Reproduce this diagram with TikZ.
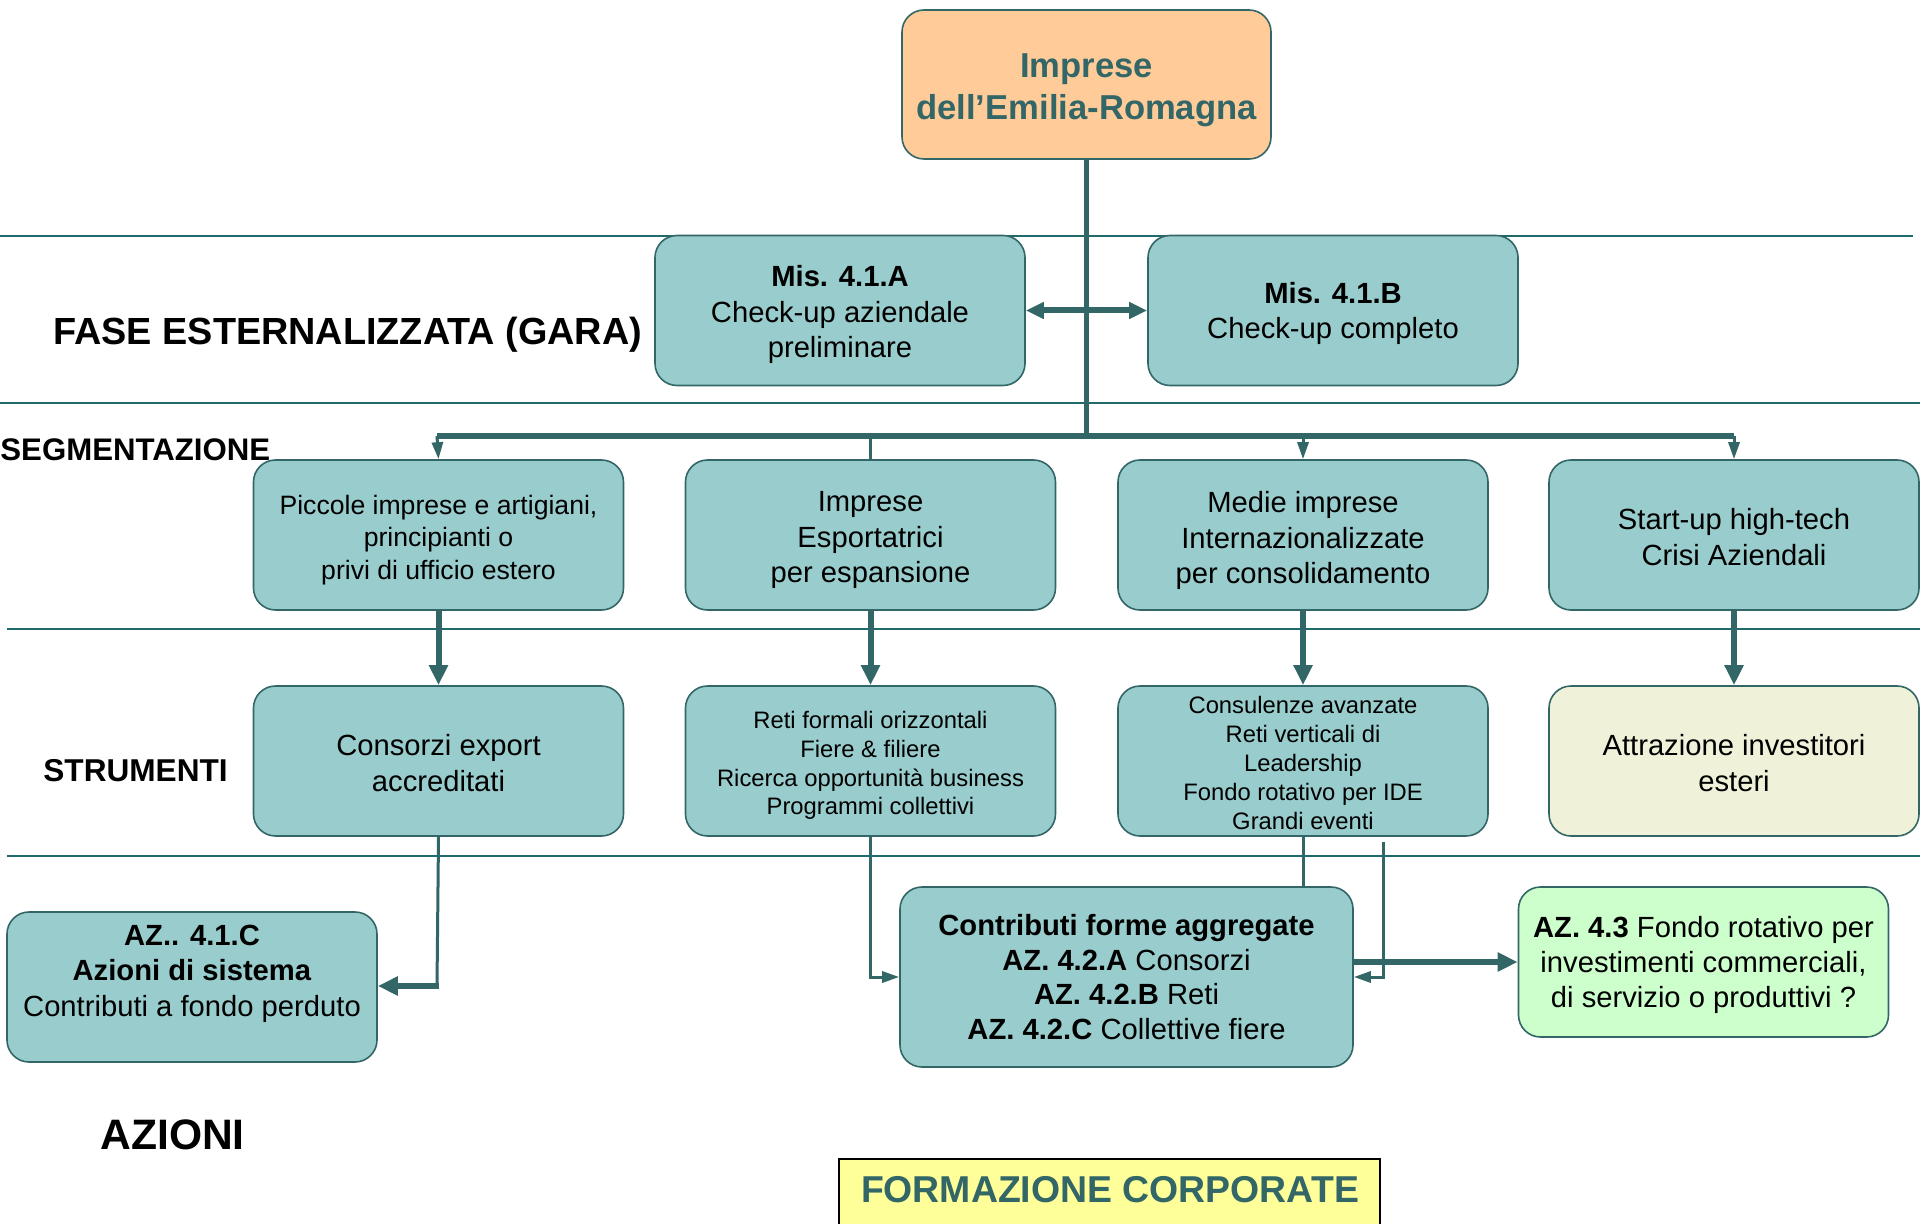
\documentclass[tikz,border=0pt]{standalone}
\usepackage{fontspec}
\setmainfont{Liberation Sans}
\usetikzlibrary{arrows.meta}
\definecolor{tealfill}{HTML}{99CCCC}
\definecolor{tealdark}{HTML}{336666}
\definecolor{sepline}{HTML}{1F6B6B}
\definecolor{topfill}{HTML}{FFCC99}
\definecolor{attrfill}{HTML}{EFF2D8}
\definecolor{greenfill}{HTML}{CCFFCC}
\definecolor{yellowfill}{HTML}{FFFF99}
\begin{document}
\begin{tikzpicture}[x=0.5pt,y=-0.5pt,
  box/.style={draw=tealdark, line width=0.8pt, fill=tealfill, rounded corners=11pt,
    inner sep=0pt, minimum width=185pt, minimum height=75pt},
  btxt/.style={align=center, inner sep=0pt, font=\fontsize{14.6}{17.7}\selectfont},
  stxt/.style={btxt, font=\fontsize{11.9}{14.4}\selectfont},
  sep/.style={draw=sepline, line width=1pt},
  conn/.style={draw=tealdark, line width=1.5pt},
  thin arrow/.style={conn, -{Triangle[length=8.5pt,width=5.5pt]}},
  thick arrow/.style={draw=tealdark, line width=3pt, -{Triangle[length=10pt,width=9pt]}},
  lbl/.style={font=\bfseries, inner sep=0pt, anchor=base west}
]
\useasboundingbox (0,0) rectangle (1920,1224);

% separator lines
\draw[sep] (0,236) -- (1913,236);
\draw[sep] (0,403) -- (1920,403);
\draw[sep] (7,629) -- (1920,629);
\draw[sep] (7,856) -- (1920,856);

% top
\node[box, fill=topfill, minimum width=184.5pt, minimum height=74.5pt] (top) at (1086.5,84.5) {};
\node[btxt, text=tealdark, font=\bfseries\fontsize{17.3}{20.8}\selectfont] (topt) at (1086.5,90.5)
  {Imprese\\dell’Emilia-Romagna};

% check-up row
\node[box] (misA) at (840,310.5) {};
\node[btxt] (misAt) at (840,314.5) {\textbf{Mis. 4.1.A}\\Check-up aziendale\\preliminare};
\node[box] (misB) at (1333,310.5) {};
\node[btxt] (misBt) at (1333,313.5) {\textbf{Mis. 4.1.B}\\Check-up completo};

% segmentation row
\node[box] (seg1) at (438.5,535) {};
\node[btxt, font=\fontsize{13.3}{16.2}\selectfont] (seg1t) at (438.5,540) {Piccole imprese e artigiani,\\principianti o\\privi di ufficio estero};
\node[box] (seg2) at (870.5,535) {};
\node[btxt] (seg2t) at (870.5,540) {Imprese\\Esportatrici\\per espansione};
\node[box] (seg3) at (1303,535) {};
\node[btxt] (seg3t) at (1303,540.5) {Medie imprese\\Internazionalizzate\\per consolidamento};
\node[box] (seg4) at (1734,535) {};
\node[btxt] (seg4t) at (1734,537) {Start-up high-tech\\Crisi Aziendali};

% strumenti row
\node[box] (str1) at (438.5,761) {};
\node[btxt] (str1t) at (438.5,763) {Consorzi export\\accreditati};
\node[box] (str2) at (870.5,761) {};
\node[stxt] (str2t) at (870.5,765.5) {Reti formali orizzontali\\Fiere \& filiere\\Ricerca opportunità business\\Programmi collettivi};
\node[box] (str3) at (1303,761) {};
\node[stxt] (str3t) at (1303,763) {Consulenze avanzate\\Reti verticali di\\Leadership\\Fondo rotativo per IDE\\Grandi eventi};
\node[box, fill=attrfill] (str4) at (1734,761) {};
\node[btxt] (str4t) at (1734,763) {Attrazione investitori\\esteri};

% azioni row
\node[box] (az41c) at (192,987) {};
\node[btxt] (az41ct) at (192,973.7) {\textbf{AZ.. 4.1.C}\\\textbf{Azioni di sistema}\\Contributi a fondo perduto};
\node[box, minimum width=226.5pt, minimum height=90pt] (contrib) at (1126.5,977) {};
\node[btxt, font=\fontsize{14.6}{17.3}\selectfont] (contribt) at (1126.5,977)
  {\textbf{Contributi forme aggregate}\\\textbf{AZ. 4.2.A} Consorzi\\\textbf{AZ. 4.2.B} Reti\\\textbf{AZ. 4.2.C} Collettive fiere};
\node[box, fill=greenfill] (az43) at (1703.5,962) {};
\node[btxt] (az43t) at (1703.5,965) {\textbf{AZ. 4.3} Fondo rotativo per\\investimenti commerciali,\\di servizio o produttivi ?};

% formazione
\node[draw=black, line width=1.2pt, fill=yellowfill, minimum width=270.5pt, minimum height=36pt,
  inner sep=0pt, anchor=north] (form) at (1109.5,1158) {};
\node[inner sep=0pt, anchor=base, text=tealdark, font=\bfseries\fontsize{18.7}{22}\selectfont] (formt) at (1110,1202)
  {FORMAZIONE CORPORATE};

% labels
\node[lbl, font=\bfseries\fontsize{18.9}{22}\selectfont] (lfase) at (53,345) {FASE ESTERNALIZZATA (GARA)};
\node[lbl, font=\bfseries\fontsize{15.6}{18}\selectfont] (lseg) at (0,460) {SEGMENTAZIONE};
\node[lbl, font=\bfseries\fontsize{15.8}{18}\selectfont] (lstr) at (43,781) {STRUMENTI};
\node[lbl, font=\bfseries\fontsize{21.3}{24}\selectfont] (laz) at (100,1149) {AZIONI};

% coordinates
\coordinate (barL) at (437,436);
\coordinate (barR) at (1734,436);
\coordinate (barM) at (1086,436);
\coordinate (cTop) at (1086,159);
\coordinate (c41) at (437,986);
\coordinate (cR) at (1383,842);

% trunk and bar
\draw[draw=tealdark, line width=2.5pt] (top.south -| cTop) -- (barM);
\draw[draw=tealdark, line width=3pt] (barL) -- (barR);
\draw[draw=tealdark, line width=3pt, {Triangle[length=9pt,width=8pt]}-{Triangle[length=9pt,width=8pt]}] (misA) -- (misB);

\draw[thin arrow] (barL) -- (seg1.north);
\draw[conn] (seg2.north |- barL) -- (seg2.north);
\draw[thin arrow] (seg3.north |- barL) -- (seg3.north);
\draw[thin arrow] (seg4.north |- barL) -- (seg4.north);

\draw[thick arrow] (seg1) -- (str1);
\draw[thick arrow] (seg2) -- (str2);
\draw[thick arrow] (seg3) -- (str3);
\draw[thick arrow] (seg4) -- (str4);

% lower connectors
\draw[conn] (str1.south) -- (c41);
\draw[thick arrow] ([xshift=0.75pt]c41) -- (az41c.east |- c41);
\draw[thin arrow] (str2.south) |- (contrib.west);
\draw[conn] (str3.south) -- (str3.south |- contrib.north);
\draw[thin arrow] (cR) |- (contrib.east);
\draw[thick arrow] (contrib.east |- az43.west) -- (az43.west);
\end{tikzpicture}
\end{document}
